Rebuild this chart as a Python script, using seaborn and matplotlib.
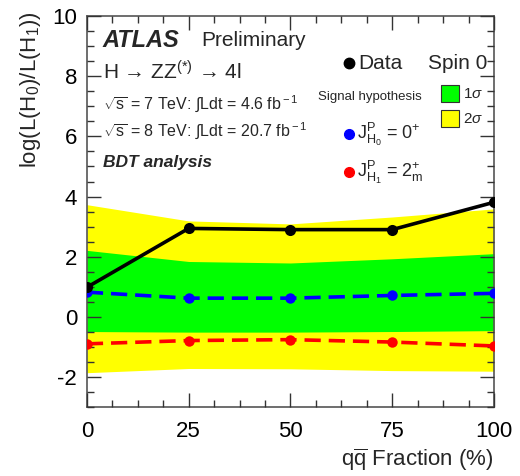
import numpy as np
import pandas as pd
import matplotlib
matplotlib.use("Agg")
import matplotlib.pyplot as plt
import seaborn as sns
from matplotlib.ticker import MultipleLocator
from matplotlib.patches import Rectangle

sns.set_style("ticks")
plt.rcParams['font.family'] = ['Liberation Sans', 'DejaVu Sans']
plt.rcParams['mathtext.fontset'] = 'custom'
plt.rcParams['mathtext.rm'] = 'Liberation Sans'
plt.rcParams['mathtext.it'] = 'Liberation Sans:italic'
plt.rcParams['mathtext.bf'] = 'Liberation Sans:bold'
plt.rcParams['axes.unicode_minus'] = False

# Data
qq_fraction = [0, 25, 50, 75, 100]
data_obs = [0.98, 2.94, 2.90, 2.90, 3.81]
exp_h0 = [0.82, 0.62, 0.62, 0.71, 0.78]
exp_h1 = [-0.90, -0.79, -0.76, -0.84, -0.97]
band2_up = [3.73, 3.19, 3.09, 3.32, 3.59]
band1_up = [2.21, 1.84, 1.79, 1.93, 2.10]
band1_lo = [-0.49, -0.51, -0.51, -0.49, -0.46]
band2_lo = [-1.86, -1.72, -1.73, -1.79, -1.81]
x_ticks = [0, 25, 50, 75, 100]
y_ticks = [-2, 0, 2, 4, 6, 8, 10]

df = pd.DataFrame({"x": qq_fraction, "data": data_obs, "h0": exp_h0, "h1": exp_h1})

fig = plt.figure(figsize=(5.2, 4.76), dpi=100)
ax = fig.add_axes([0.167, 0.145, 0.783, 0.821])
ax.set_axisbelow(False)

ax.fill_between(qq_fraction, band2_lo, band2_up, color='#ffff00', lw=0, zorder=1)
ax.fill_between(qq_fraction, band1_lo, band1_up, color='#00ff00', lw=0, zorder=1.5)

sns.lineplot(data=df, x="x", y="h0", ax=ax, color='#0000ff', lw=2.6, marker='o',
             markersize=7.5, markeredgewidth=0, linestyle=(0, (4.5, 2.2)), zorder=3)
sns.lineplot(data=df, x="x", y="h1", ax=ax, color='#ff0000', lw=2.6, marker='o',
             markersize=7.5, markeredgewidth=0, linestyle=(0, (4.5, 2.2)), zorder=3)
sns.lineplot(data=df, x="x", y="data", ax=ax, color='black', lw=2.6, marker='o',
             markersize=8, markeredgewidth=0, zorder=4)

ax.set_xlim(0, 100)
ax.set_ylim(-3, 10)
ax.set_xticks(x_ticks)
ax.set_yticks(y_ticks)
ax.xaxis.set_minor_locator(MultipleLocator(6.25))
ax.yaxis.set_minor_locator(MultipleLocator(0.5))
ax.tick_params(which='both', direction='in', top=True, right=True, bottom=True, left=True,
               color='#333333', labelcolor='black', width=1)
ax.tick_params(which='major', length=10, labelsize=16)
ax.tick_params(axis='x', which='major', pad=10)
ax.tick_params(axis='y', which='major', pad=7)
ax.tick_params(which='minor', length=5)
for s in ax.spines.values():
    s.set_color('#555555')
    s.set_linewidth(1.2)
    s.set_visible(True)

ax.set_xlabel(r"q$\overline{\rm q}$ Fraction (%)", fontsize=16, ha='right', va='center')
ax.xaxis.set_label_coords(1.0, (407 - 460) / 391.0)
ax.set_ylabel(r"log(L(H$_0$)/L(H$_1$))", fontsize=16, ha='right', va='center')
ax.yaxis.set_label_coords((31 - 87) / 407.0, 1.012)

# Annotations
tf = ax.transAxes
def px(xp, yp):
    return ((xp - 87) / 407.0, (407 - yp) / 391.0)

ax.text(*px(103, 40), "ATLAS", fontsize=17, fontweight='bold', fontstyle='italic', transform=tf, va='center')
ax.text(*px(201, 40), "Preliminary", fontsize=15, transform=tf, va='center')
ax.text(*px(103, 72), "H → ZZ$^{(*)}$ → 4l", fontsize=15, transform=tf, va='center')
ax.text(*px(103, 103), r"$\sqrt{\rm s}$ = 7 TeV: ∫Ldt = 4.6 fb$^{\rm -1}$", fontsize=11.5, transform=tf, va='center')
ax.text(*px(103, 130), r"$\sqrt{\rm s}$ = 8 TeV: ∫Ldt = 20.7 fb$^{\rm -1}$", fontsize=11.5, transform=tf, va='center')
ax.text(*px(103, 162), "BDT analysis", fontsize=12.5, fontweight='bold', fontstyle='italic', transform=tf, va='center')

# Legend
ax.plot(*px(349, 63), 'o', color='black', markersize=7.5, transform=tf, clip_on=False)
ax.text(*px(358, 63), "Data", fontsize=15, transform=tf, va='center')
ax.text(*px(428, 63), "Spin 0", fontsize=15, transform=tf, va='center')
ax.text(*px(318, 97), "Signal hypothesis", fontsize=9.5, transform=tf, va='center')
w, h = 18 / 407.0, 17 / 391.0
ax.add_patch(Rectangle(px(441, 102), w, h, facecolor='#00ff00', edgecolor='#333333', lw=0.8, transform=tf))
ax.add_patch(Rectangle(px(441, 127), w, h, facecolor='#ffff00', edgecolor='#333333', lw=0.8, transform=tf))
ax.text(*px(463, 94), r"1$\sigma$", fontsize=11, transform=tf, va='center')
ax.text(*px(463, 119), r"2$\sigma$", fontsize=11, transform=tf, va='center')
ax.plot(*px(349, 134), 'o', color='#0000ff', markersize=7, transform=tf, clip_on=False)
ax.text(*px(357, 134), r"J$^{\rm P}_{\rm H_0}$ = 0$^{+}$", fontsize=13, transform=tf, va='center')
ax.plot(*px(349, 172), 'o', color='#ff0000', markersize=7, transform=tf, clip_on=False)
ax.text(*px(357, 172), r"J$^{\rm P}_{\rm H_1}$ = 2$^{+}_{\rm m}$", fontsize=13, transform=tf, va='center')

fig.savefig("out.png", dpi=100)
